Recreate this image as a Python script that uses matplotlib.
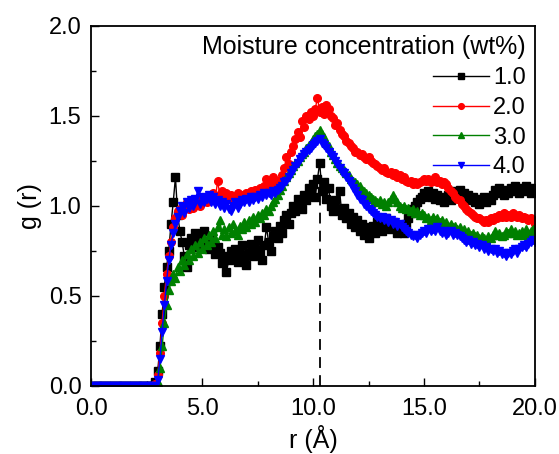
import numpy as np
import matplotlib
matplotlib.use("Agg")
import matplotlib.pyplot as plt
from matplotlib.ticker import MultipleLocator, FormatStrFormatter

plt.rcParams['font.family'] = ['Liberation Sans', 'DejaVu Sans']

# r grid (0.1 A bins)
r = np.round(np.arange(201) * 0.1, 1)

g_10 = [0, 0, 0, 0, 0, 0, 0, 0, 0, 0,
        0, 0, 0, 0, 0, 0, 0, 0, 0, 0,
        0, 0, 0, 0, 0, 0, 0, 0, 0, 0.02,
        0.08, 0.22, 0.40, 0.55, 0.66, 0.75, 0.90, 1.02, 1.16, 0.95,
        0.86, 0.80, 0.72, 0.66, 0.78, 0.82, 0.77, 0.85, 0.80, 0.83,
        0.78, 0.86, 0.80, 0.76, 0.82, 0.79, 0.73, 0.77, 0.74, 0.68,
        0.72, 0.63, 0.70, 0.75, 0.71, 0.76, 0.69, 0.73, 0.78, 0.71,
        0.67, 0.74, 0.79, 0.72, 0.76, 0.81, 0.74, 0.70, 0.78, 0.88,
        0.80, 0.75, 0.83, 0.86, 0.82, 0.89, 0.85, 0.92, 0.95, 0.90,
        0.96, 1.00, 0.97, 1.04, 1.01, 0.98, 1.06, 1.03, 1.10, 1.07,
        1.12, 1.05, 1.15, 1.24, 1.08, 1.13, 1.04, 1.10, 1.00, 0.97,
        1.03, 0.98, 1.08, 0.95, 0.99, 0.93, 0.96, 0.90, 0.94, 0.88,
        0.92, 0.86, 0.90, 0.84, 0.88, 0.82, 0.86, 0.89, 0.85, 0.91,
        0.88, 0.86, 0.90, 0.93, 0.89, 0.87, 0.91, 0.88, 0.85, 0.89,
        0.87, 0.85, 0.90, 0.93, 0.96, 0.98, 1.00, 1.02, 1.04, 1.05,
        1.07, 1.06, 1.08, 1.05, 1.07, 1.04, 1.06, 1.03, 1.05, 1.02,
        1.04, 1.06, 1.03, 1.05, 1.08, 1.06, 1.09, 1.05, 1.07, 1.04,
        1.06, 1.03, 1.05, 1.02, 1.04, 1.01, 1.03, 1.05, 1.02, 1.04,
        1.03, 1.06, 1.09, 1.07, 1.10, 1.08, 1.06, 1.09, 1.07, 1.10,
        1.08, 1.11, 1.09, 1.07, 1.10, 1.08, 1.11, 1.09, 1.07, 1.10,
        1.09]

g_20 = [0, 0, 0, 0, 0, 0, 0, 0, 0, 0,
        0, 0, 0, 0, 0, 0, 0, 0, 0, 0,
        0, 0, 0, 0, 0, 0, 0, 0, 0, 0.01,
        0.06, 0.18, 0.35, 0.50, 0.62, 0.72, 0.80, 0.88, 0.93, 0.97,
        0.98, 0.95, 1.00, 1.02, 0.98, 1.03, 0.99, 1.01, 1.04, 1.00,
        1.02, 1.05, 1.02, 1.06, 1.03, 1.07, 1.04, 1.14, 1.06, 1.08,
        1.05, 1.07, 1.04, 1.06, 1.03, 1.05, 1.07, 1.04, 1.06, 1.05,
        1.07, 1.05, 1.08, 1.06, 1.09, 1.07, 1.10, 1.08, 1.11, 1.15,
        1.10, 1.13, 1.16, 1.12, 1.14, 1.12, 1.17, 1.21, 1.27, 1.23,
        1.30, 1.33, 1.37, 1.41, 1.38, 1.47, 1.44, 1.50, 1.48, 1.52,
        1.50, 1.54, 1.60, 1.52, 1.55, 1.51, 1.56, 1.54, 1.50, 1.49,
        1.45, 1.46, 1.42, 1.40, 1.39, 1.36, 1.35, 1.33, 1.32, 1.30,
        1.30, 1.28, 1.29, 1.27, 1.26, 1.27, 1.25, 1.24, 1.23, 1.22,
        1.21, 1.20, 1.21, 1.19, 1.18, 1.19, 1.17, 1.18, 1.16, 1.17,
        1.15, 1.16, 1.14, 1.13, 1.14, 1.12, 1.13, 1.12, 1.13, 1.14,
        1.15, 1.14, 1.15, 1.13, 1.14, 1.16, 1.13, 1.14, 1.12, 1.13,
        1.12, 1.10, 1.08, 1.07, 1.05, 1.04, 1.03, 1.01, 1.00, 0.98,
        0.97, 0.96, 0.95, 0.94, 0.93, 0.93, 0.92, 0.91, 0.92, 0.91,
        0.93, 0.92, 0.94, 0.93, 0.95, 0.94, 0.96, 0.94, 0.95, 0.94,
        0.96, 0.95, 0.94, 0.95, 0.93, 0.94, 0.93, 0.92, 0.93, 0.92,
        0.90]

g_30 = [0, 0, 0, 0, 0, 0, 0, 0, 0, 0,
        0, 0, 0, 0, 0, 0, 0, 0, 0, 0,
        0, 0, 0, 0, 0, 0, 0, 0, 0, 0,
        0.02, 0.10, 0.22, 0.35, 0.45, 0.53, 0.58, 0.62, 0.60, 0.66,
        0.64, 0.70, 0.67, 0.73, 0.70, 0.76, 0.72, 0.78, 0.74, 0.80,
        0.76, 0.82, 0.78, 0.84, 0.80, 0.86, 0.82, 0.88, 0.92, 0.84,
        0.87, 0.83, 0.88, 0.85, 0.90, 0.86, 0.84, 0.89, 0.87, 0.91,
        0.88, 0.92, 0.90, 0.94, 0.91, 0.95, 0.93, 0.96, 0.95, 0.98,
        0.97, 1.00, 1.02, 1.04, 1.06, 1.09, 1.11, 1.14, 1.16, 1.18,
        1.20, 1.22, 1.24, 1.25, 1.27, 1.29, 1.30, 1.32, 1.34, 1.35,
        1.37, 1.39, 1.40, 1.42, 1.40, 1.38, 1.35, 1.33, 1.30, 1.28,
        1.26, 1.24, 1.22, 1.21, 1.20, 1.18, 1.17, 1.15, 1.14, 1.13,
        1.12, 1.11, 1.09, 1.08, 1.07, 1.06, 1.05, 1.04, 1.03, 1.02,
        1.03, 1.01, 1.02, 1.00, 1.02, 1.04, 1.06, 1.04, 1.02, 1.00,
        0.99, 1.00, 0.98, 0.99, 0.97, 0.98, 0.96, 0.97, 0.95, 0.96,
        0.95, 0.93, 0.94, 0.92, 0.94, 0.92, 0.93, 0.91, 0.92, 0.90,
        0.91, 0.89, 0.90, 0.88, 0.89, 0.87, 0.88, 0.86, 0.87, 0.85,
        0.86, 0.84, 0.85, 0.83, 0.84, 0.82, 0.83, 0.82, 0.81, 0.83,
        0.82, 0.84, 0.86, 0.84, 0.85, 0.83, 0.84, 0.86, 0.85, 0.87,
        0.85, 0.86, 0.84, 0.85, 0.86, 0.84, 0.87, 0.85, 0.86, 0.87,
        0.86]

g_40 = [0, 0, 0, 0, 0, 0, 0, 0, 0, 0,
        0, 0, 0, 0, 0, 0, 0, 0, 0, 0,
        0, 0, 0, 0, 0, 0, 0, 0, 0, 0,
        0.03, 0.15, 0.30, 0.45, 0.58, 0.70, 0.78, 0.85, 0.90, 0.94,
        0.97, 1.00, 0.96, 1.02, 0.99, 1.03, 1.00, 1.04, 1.08, 1.01,
        1.05, 1.02, 1.04, 1.06, 1.02, 1.05, 1.01, 1.03, 1.00, 1.02,
        0.99, 1.01, 0.98, 0.97, 1.00, 1.02, 0.99, 1.01, 1.03, 1.02,
        1.04, 1.02, 1.05, 1.03, 1.05, 1.04, 1.06, 1.05, 1.07, 1.06,
        1.07, 1.06, 1.08, 1.07, 1.09, 1.10, 1.11, 1.13, 1.14, 1.16,
        1.18, 1.20, 1.22, 1.24, 1.26, 1.27, 1.29, 1.30, 1.31, 1.32,
        1.34, 1.35, 1.36, 1.37, 1.35, 1.34, 1.32, 1.30, 1.28, 1.27,
        1.25, 1.23, 1.21, 1.19, 1.18, 1.16, 1.14, 1.12, 1.10, 1.08,
        1.06, 1.04, 1.03, 1.01, 1.00, 0.98, 0.97, 0.96, 0.95, 0.94,
        0.93, 0.94, 0.92, 0.93, 0.91, 0.92, 0.90, 0.91, 0.89, 0.90,
        0.88, 0.87, 0.86, 0.85, 0.84, 0.83, 0.84, 0.82, 0.84, 0.85,
        0.86, 0.85, 0.87, 0.86, 0.87, 0.86, 0.88, 0.86, 0.85, 0.86,
        0.84, 0.85, 0.86, 0.84, 0.85, 0.84, 0.83, 0.82, 0.81, 0.80,
        0.81, 0.79, 0.80, 0.78, 0.79, 0.77, 0.78, 0.76, 0.77, 0.75,
        0.76, 0.75, 0.76, 0.74, 0.75, 0.73, 0.74, 0.72, 0.74, 0.73,
        0.75, 0.76, 0.74, 0.76, 0.77, 0.78, 0.77, 0.79, 0.80, 0.81,
        0.80]

labels = ["1.0", "2.0", "3.0", "4.0"]
colors = ["black", "red", "green", "blue"]
markers = ["s", "o", "^", "v"]
peak_r = 10.3
peak_top = 1.2

fig = plt.figure(figsize=(5.59, 4.54), dpi=100)
ax = fig.add_axes([0.163, 0.150, 0.794, 0.793])

ax.plot([peak_r, peak_r], [0, peak_top], color="black", lw=1.3,
        linestyle=(0, (6, 4)), zorder=1)

for g, lab, c, m in zip([g_10, g_20, g_30, g_40], labels, colors, markers):
    ax.plot(r, g, color=c, marker=m, markersize=5.5, lw=1.0, label=lab, zorder=2)

ax.set_xlim(0, 20)
ax.set_ylim(0, 2.0)
ax.xaxis.set_major_locator(MultipleLocator(5))
ax.xaxis.set_minor_locator(MultipleLocator(2.5))
ax.yaxis.set_major_locator(MultipleLocator(0.5))
ax.yaxis.set_minor_locator(MultipleLocator(0.25))
ax.xaxis.set_major_formatter(FormatStrFormatter("%.1f"))
ax.yaxis.set_major_formatter(FormatStrFormatter("%.1f"))
ax.tick_params(which="both", direction="in", width=1.0, labelsize=17, pad=7)
ax.tick_params(axis="x", which="both", pad=9)
ax.tick_params(which="major", length=6)
ax.tick_params(which="minor", length=3.5)
for s in ax.spines.values():
    s.set_linewidth(1.3)

ax.set_xlabel("r (Å)", fontsize=18, labelpad=3)
ax.set_ylabel("g (r)", fontsize=18, labelpad=5)

leg = ax.legend(title="Moisture concentration (wt%)", loc="upper right",
                frameon=False, fontsize=17, title_fontsize=18,
                handlelength=2.4, handletextpad=0.15, labelspacing=0.33,
                borderaxespad=0.3, borderpad=0.1, alignment="right",
                markerscale=0.75)

fig.savefig("out.png", dpi=100)
